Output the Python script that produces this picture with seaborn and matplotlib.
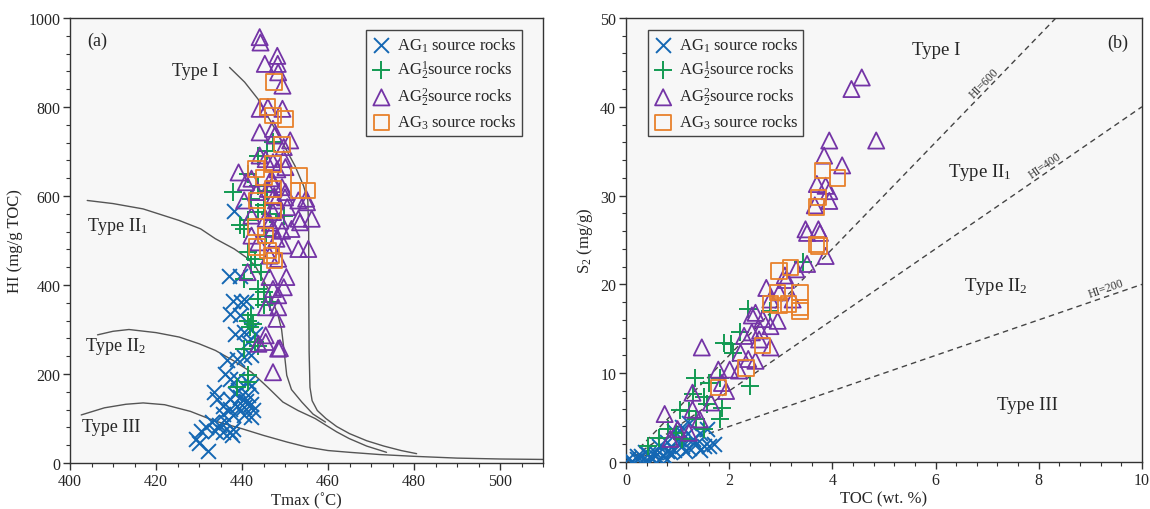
import numpy as np
import pandas as pd
import matplotlib
matplotlib.use("Agg")
import matplotlib.pyplot as plt
import seaborn as sns
from matplotlib.ticker import MultipleLocator

sns.set_theme(style="ticks")
plt.rcParams['font.family'] = ['Liberation Serif', 'DejaVu Serif']
plt.rcParams['mathtext.fontset'] = 'custom'
plt.rcParams['mathtext.rm'] = 'Liberation Serif'
plt.rcParams['mathtext.it'] = 'Liberation Serif:italic'

# ---------------- Panel (a): HI vs Tmax ----------------
a_ag1_t = [438.1, 436.9, 439.5, 438.0, 439.8, 440.9, 437.1, 439.6, 438.4, 440.5, 442.2, 443.0,
           441.3, 436.5, 438.8, 440.5, 442.2, 437.1, 438.8, 441.3, 442.2, 433.4, 434.2, 437.1,
           438.4, 439.6, 441.3, 435.5, 437.1, 438.8, 440.5, 442.2, 442.6, 435.5, 438.0, 440.5,
           442.2, 433.0, 434.6, 436.3, 438.0, 430.4, 431.7, 433.8, 435.5, 437.1, 437.6, 429.2,
           430.0, 432.1, 436.0, 439.0, 441.0]
a_ag1_hi = [567, 421, 421, 365, 362, 365, 335, 332, 290, 294, 302, 290,
            272, 231, 234, 238, 242, 189, 189, 182, 174, 159, 144, 144,
            156, 148, 152, 129, 122, 129, 126, 133, 118, 111, 107, 107,
            103, 92, 85, 92, 77, 73, 81, 73, 70, 70, 62, 55,
            45, 28, 200, 165, 140]

a_ag21_t = [447.2, 445.9, 443.8, 441.3, 438.0, 445.9, 443.8, 442.2, 445.1, 443.8, 439.6, 441.3,
            440.5, 445.5, 449.7, 441.3, 442.2, 443.0, 444.3, 440.5, 443.8, 445.1, 443.8, 446.4,
            445.1, 442.2, 441.3, 442.6, 441.8, 443.0, 440.5, 441.3, 438.8, 441.3, 443.8, 446.5]
a_ag21_hi = [721, 702, 691, 650, 608, 612, 623, 594, 579, 564, 534, 545,
             526, 511, 556, 474, 444, 459, 429, 414, 391, 384, 369, 362,
             354, 332, 320, 313, 305, 272, 257, 197, 171, 182, 264, 560]

a_ag22_t = [444.1, 444.3, 445.3, 448.2, 448.3, 448.4, 449.4, 444.1, 449.4, 446.0, 444.1, 447.2,
            447.6, 451.2, 449.7, 444.1, 445.5, 447.2, 449.7, 450.1, 439.2, 440.9, 442.2, 443.4,
            446.0, 447.2, 449.3, 450.1, 440.5, 453.1, 454.9, 455.1, 447.9, 450.0, 450.5, 442.2,
            445.5, 447.2, 448.9, 453.1, 453.5, 456.2, 442.2, 447.2, 449.3, 451.5, 443.8, 448.0,
            449.7, 453.1, 455.4, 446.4, 448.4, 441.3, 446.4, 450.3, 447.2, 449.7, 448.4, 445.5,
            448.4, 448.0, 445.5, 445.5, 448.4, 448.8, 447.2, 443.8, 446.5, 447.5, 446.8, 448.2]
a_ag22_hi = [957, 945, 897, 915, 897, 878, 848, 796, 796, 800, 743, 751,
             736, 725, 710, 691, 683, 676, 683, 665, 653, 631, 639, 609,
             616, 627, 620, 609, 590, 590, 594, 586, 590, 597, 575, 556,
             549, 564, 545, 549, 541, 549, 511, 526, 522, 526, 496, 504,
             489, 481, 481, 466, 459, 429, 418, 418, 391, 395, 377, 350,
             350, 324, 287, 272, 257, 258, 204, 268, 540, 600, 640, 660]

a_ag3_t = [447.4, 445.9, 447.2, 450.1, 449.3, 447.2, 443.2, 445.1, 453.2, 453.1, 455.2, 447.2,
           443.5, 447.2, 443.2, 445.5, 443.5, 446.0, 447.6, 446.8]
a_ag3_hi = [856, 800, 781, 773, 716, 672, 661, 642, 646, 612, 612, 616,
            590, 567, 530, 511, 485, 478, 455, 466]

# Kerogen type boundary curves (Tmax, HI)
t1_t = [437.1, 440.6, 443.7, 448.0, 452.3, 454.3, 455.3, 455.5, 455.5, 455.6, 455.8, 456.3,
        457.5, 459.5, 462.0, 465.0, 469.0, 473.0, 477.0, 480.6]
t1_hi = [889, 856, 818, 745, 668, 623, 590, 520, 400, 250, 170, 140,
         118, 100, 82, 66, 50, 38, 28, 21]
t21_t = [404.0, 410.0, 417.0, 425.4, 430.4, 433.8, 438.2, 441.0, 443.0, 446.1, 448.4, 449.2,
         449.8, 450.4, 451.5, 453.9, 456.5, 459.4]
t21_hi = [590, 583, 571, 545, 526, 504, 481, 462, 444, 391, 331, 300,
          250, 197, 165, 137, 110, 92]
t22_t = [406.4, 410.0, 413.7, 420.0, 425.4, 430.0, 433.8, 438.0, 442.2, 446.0, 449.5, 453.0,
         457.0, 459.0, 462.0, 464.9, 469.0, 473.6]
t22_hi = [288, 296, 300, 293, 283, 268, 253, 230, 204, 170, 137, 118,
          100, 88, 70, 55, 38, 24]
t3_t = [402.6, 408.0, 413.0, 417.0, 422.0, 428.0, 433.8, 440.0, 445.0, 450.5, 455.0, 460.0,
        465.0, 472.0, 480.0, 490.0, 500.0, 510.0]
t3_hi = [108, 124, 132, 135, 131, 116, 94, 77, 62, 47, 36, 28,
         24, 19, 15, 11, 9, 8]

# ---------------- Panel (b): S2 vs TOC ----------------
b_ag1_toc = [0.11, 0.22, 0.36, 0.50, 0.65, 0.29, 0.43, 0.57, 0.72, 0.79, 0.93, 1.08, 1.22, 1.36,
             1.51, 1.61, 1.00, 1.15, 1.29, 1.43, 1.58, 0.93, 1.08, 1.22, 0.79, 0.65, 0.36, 0.57,
             0.86, 1.15, 1.43, 0.22, 0.04, 0.43, 0.79, 1.70]
b_ag1_s2 = [0.1, 0.3, 0.1, 0.3, 0.3, 0.7, 0.9, 1.1, 0.7, 1.2, 1.4, 1.8, 1.6, 2.0,
            1.8, 1.8, 2.6, 2.9, 2.6, 3.3, 3.7, 3.5, 3.9, 4.4, 2.2, 1.8, 1.1, 0.7,
            1.1, 1.2, 1.4, 0.7, 0.3, 0.1, 0.3, 2.0]

b_ag21_toc = [2.80, 2.37, 1.90, 2.04, 1.33, 1.83, 2.40, 1.61, 1.29, 1.51, 1.04, 1.22, 1.58, 1.86,
              1.83, 0.82, 0.97, 0.65, 1.36, 1.08, 1.51, 0.43, 2.08, 2.22, 3.44]
b_ag21_s2 = [17.0, 17.2, 13.4, 13.3, 9.5, 9.5, 8.6, 8.9, 7.6, 7.3, 5.9, 5.7, 6.5, 6.1,
             4.8, 3.7, 3.3, 2.7, 4.8, 2.6, 3.7, 1.8, 12.3, 14.6, 22.5]

b_ag22_toc = [4.57, 4.37, 4.85, 3.94, 4.19, 3.84, 3.70, 3.94, 3.87, 3.94, 3.66, 3.48, 3.51, 3.73,
              3.76, 3.87, 3.51, 3.30, 3.08, 2.72, 2.97, 3.23, 2.44, 2.65, 2.80, 2.94, 2.44, 2.58,
              2.80, 2.22, 2.37, 2.51, 2.01, 2.19, 1.79, 1.47, 1.86, 1.94, 1.29, 1.65, 0.75, 1.29,
              1.43, 1.00, 1.22, 0.86, 2.51, 2.29, 2.80, 3.10, 2.60]
b_ag22_s2 = [43.3, 42.0, 36.2, 36.2, 33.4, 34.5, 31.3, 30.5, 31.1, 29.4, 28.9, 26.2, 25.8, 26.2,
             25.8, 23.2, 22.3, 21.7, 21.0, 19.6, 19.1, 18.3, 16.5, 16.1, 15.3, 15.9, 14.6, 13.8,
             12.9, 12.3, 11.6, 11.4, 10.4, 10.3, 10.4, 12.9, 8.9, 8.0, 7.8, 6.7, 5.4, 5.9,
             4.8, 3.7, 3.3, 2.6, 16.8, 14.2, 18.3, 20.5, 14.8]

b_ag3_toc = [3.81, 4.10, 3.73, 3.69, 3.74, 3.69, 2.97, 3.19, 3.37, 2.94, 2.80, 2.97, 3.37, 3.37,
             3.15, 2.65, 2.33, 1.79]
b_ag3_s2 = [32.8, 32.0, 29.8, 28.7, 24.3, 24.5, 21.5, 21.9, 19.1, 19.1, 17.8, 17.6, 17.4, 17.0,
            17.8, 13.1, 10.6, 8.4]

hi_lines = [600, 400, 200]
hi_labels = ["HI=600", "HI=400", "HI=200"]

labels = [r"AG$\mathregular{_1}$ source rocks", r"AG$\mathregular{^1_2}$source rocks",
          r"AG$\mathregular{^2_2}$source rocks", r"AG$\mathregular{_3}$ source rocks"]
colors = ["#1467b3", "#129a52", "#7434a6", "#e8812c"]
markers = ["x", "+", "^", "s"]
sizes = [115, 160, 135, 125]

curve_color = "#555555"
face = "#f7f7f7"

fig = plt.figure(figsize=(11.5, 5.1), dpi=100)
fig.patch.set_facecolor("white")
axA = fig.add_axes([0.0609, 0.0902, 0.4113, 0.8725])
axB = fig.add_axes([0.5443, 0.0922, 0.4487, 0.8706])


def scatter_series(ax, xs, ys):
    for (x, y), lab, c, m, s in zip(zip(xs, ys), labels, colors, markers, sizes):
        if m in ("x", "+"):
            sns.scatterplot(x=x, y=y, ax=ax, marker=m, s=s, color=c, edgecolor=c,
                            linewidth=1.4, label=lab, zorder=3)
        else:
            sns.scatterplot(x=x, y=y, ax=ax, marker=m, s=s, color=c, facecolor="none",
                            edgecolor=c, linewidth=1.3, label=lab, zorder=3)


def style_legend(leg):
    leg.get_frame().set_linewidth(1.0)
    leg.get_frame().set_facecolor(face)


legend_kw = dict(fontsize=12, frameon=True, fancybox=False, edgecolor="#444444", framealpha=1,
                 borderpad=0.3, labelspacing=0.3, handletextpad=0.35, handlelength=1.2,
                 borderaxespad=0)

# --- Panel (a)
for tt, hh in [(t1_t, t1_hi), (t21_t, t21_hi), (t22_t, t22_hi), (t3_t, t3_hi)]:
    sns.lineplot(x=tt, y=hh, ax=axA, sort=False, estimator=None, color=curve_color,
                 lw=1.0, zorder=2)
scatter_series(axA, [a_ag1_t, a_ag21_t, a_ag22_t, a_ag3_t],
               [a_ag1_hi, a_ag21_hi, a_ag22_hi, a_ag3_hi])
axA.set_xlim(400, 510)
axA.set_ylim(0, 1000)
axA.xaxis.set_major_locator(MultipleLocator(20))
axA.xaxis.set_minor_locator(MultipleLocator(5))
axA.yaxis.set_major_locator(MultipleLocator(200))
axA.yaxis.set_minor_locator(MultipleLocator(40))
axA.set_xlabel("Tmax (˚C)", fontsize=12, labelpad=2)
axA.set_ylabel("HI (mg/g TOC)", fontsize=12, labelpad=4)
axA.text(406.3, 949, "(a)", fontsize=13, ha="center", va="center")
axA.text(429.1, 882, "Type I", fontsize=13, ha="center", va="center")
axA.text(411.1, 534, r"Type II$\mathregular{_1}$", fontsize=13, ha="center", va="center")
axA.text(410.6, 264, r"Type II$\mathregular{_2}$", fontsize=13, ha="center", va="center")
axA.text(409.6, 82, "Type III", fontsize=13, ha="center", va="center")
legA = axA.legend(loc="upper right", bbox_to_anchor=(0.955, 0.972), **legend_kw)
style_legend(legA)

# --- Panel (b)
toc_line = np.array([0.0, 10.0])
for hi in hi_lines:
    sns.lineplot(x=toc_line, y=hi / 100.0 * toc_line, ax=axB, sort=False, estimator=None,
                 color="#444444", lw=1.0, linestyle=(0, (4, 3)), zorder=2)
scatter_series(axB, [b_ag1_toc, b_ag21_toc, b_ag22_toc, b_ag3_toc],
               [b_ag1_s2, b_ag21_s2, b_ag22_s2, b_ag3_s2])
axB.set_xlim(0, 10)
axB.set_ylim(0, 50)
axB.xaxis.set_major_locator(MultipleLocator(2))
axB.xaxis.set_minor_locator(MultipleLocator(0.4))
axB.yaxis.set_major_locator(MultipleLocator(10))
axB.yaxis.set_minor_locator(MultipleLocator(2))
axB.set_xlabel("TOC (wt. %)", fontsize=12, labelpad=2)
axB.set_ylabel(r"S$\mathregular{_2}$ (mg/g)", fontsize=12, labelpad=4)
axB.text(9.53, 47.3, "(b)", fontsize=13, ha="center", va="center")
axB.text(6.02, 46.5, "Type I", fontsize=13.5, ha="center", va="center")
axB.text(6.85, 32.7, r"Type II$\mathregular{_1}$", fontsize=13.5, ha="center", va="center")
axB.text(7.17, 19.9, r"Type II$\mathregular{_2}$", fontsize=13.5, ha="center", va="center")
axB.text(7.78, 6.5, "Type III", fontsize=13.5, ha="center", va="center")
for hi, lab, xpos in zip(hi_lines, hi_labels, [6.95, 8.12, 9.30]):
    axB.text(xpos, hi / 100.0 * xpos + 1.0, lab, fontsize=8.5, ha="center", va="center",
             rotation=np.degrees(np.arctan(hi / 100.0)), transform_rotates_text=True,
             rotation_mode="anchor", color="#333333")
legB = axB.legend(loc="upper left", bbox_to_anchor=(0.043, 0.972), **legend_kw)
style_legend(legB)

for ax in (axA, axB):
    ax.set_facecolor(face)
    for sp in ax.spines.values():
        sp.set_visible(True)
        sp.set_color("#333333")
        sp.set_linewidth(1.0)
    ax.tick_params(which="major", direction="out", length=5, width=1.0, labelsize=11.5,
                   color="#333333", pad=2)
    ax.tick_params(which="minor", direction="out", length=3, width=0.8, color="#333333")
    ax.grid(False)

fig.savefig("out.png", dpi=100, facecolor="white")
